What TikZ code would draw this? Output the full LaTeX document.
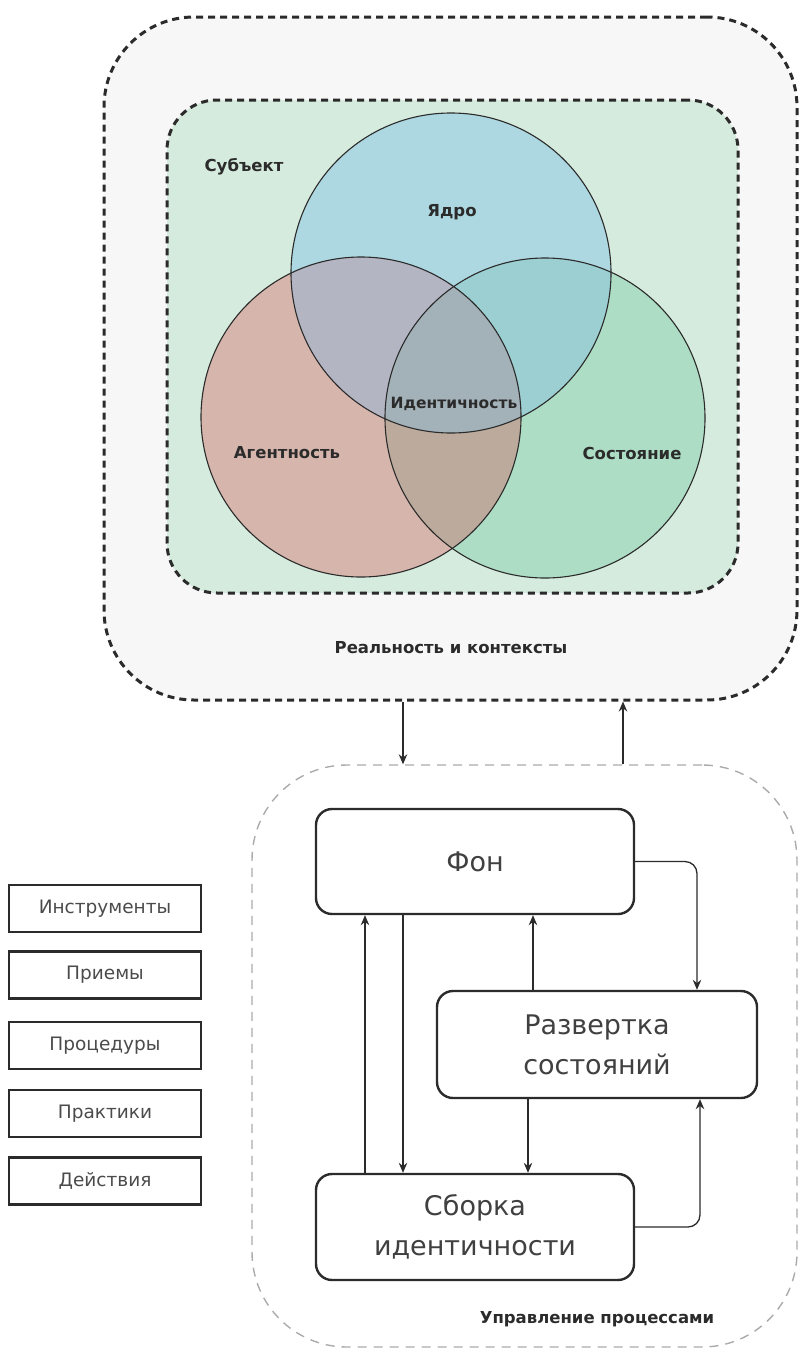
\documentclass[tikz,border=0pt]{standalone}
\usepackage{fontspec}
\setmainfont{DejaVu Sans}
\usetikzlibrary{arrows.meta}
\definecolor{outerbg}{HTML}{F7F7F7}
\definecolor{innerbg}{HTML}{D5EBDD}
\definecolor{cred}{HTML}{D6B6AC}
\definecolor{cblue}{HTML}{AED8E1}
\definecolor{cgreen}{HTML}{ADDDC4}
\definecolor{crb}{HTML}{B4B5C3}
\definecolor{cbg}{HTML}{9CCFD2}
\definecolor{crg}{HTML}{BCAB9C}
\definecolor{call}{HTML}{A3B2B8}
\definecolor{ink}{HTML}{2B2B2B}
\definecolor{graydash}{HTML}{ABABAB}
\tikzset{
  outerbox/.style={draw=ink, line width=3pt, dash pattern=on 7pt off 5pt, fill=outerbg, rounded corners=90pt},
  innerbox/.style={draw=ink, line width=3pt, dash pattern=on 7pt off 5pt, fill=innerbg, rounded corners=50pt},
  procarea/.style={draw=graydash, line width=1.4pt, dash pattern=on 9pt off 7pt, rounded corners=95pt},
  vcircle/.style={circle, minimum size=320pt, inner sep=0pt},
  lab/.style={font=\fontsize{16.5}{19}\selectfont\bfseries, text=ink},
  procbox/.style={draw=ink, line width=2.4pt, rounded corners=16pt, fill=white, align=center, font=\fontsize{27}{40}\selectfont, text=ink!90},
  toolbox/.style={draw=ink, line width=2.4pt, minimum width=192pt, minimum height=47pt, font=\fontsize{18.5}{22}\selectfont, text=ink!85},
  arr/.style={draw=ink, line width=1.3pt, -{Stealth[length=10pt,width=8.5pt]}},
  venn/.style={draw=ink, line width=1.1pt}
}
\begin{document}
\begin{tikzpicture}[x=1pt,y=-1pt]
\useasboundingbox (0,0) rectangle (798,1349);
% outer areas
\node[outerbox, minimum width=693pt, minimum height=683pt] (real) at (450.5,358.5) {};
\node[innerbox, minimum width=571pt, minimum height=493pt] (subj) at (452.5,346.5) {};
\node[procarea, minimum width=545pt, minimum height=582pt] (proc) at (524.5,1056) {};
% venn circles
\node[vcircle] (cb) at (451,273) {};
\node[vcircle] (cr) at (361,417) {};
\node[vcircle] (cg) at (545,418) {};
\fill[cred] (cr.center) circle (160);
\fill[cblue] (cb.center) circle (160);
\fill[cgreen] (cg.center) circle (160);
\begin{scope}
  \clip (cr.center) circle (160);
  \fill[crb] (cb.center) circle (160);
  \fill[crg] (cg.center) circle (160);
\end{scope}
\begin{scope}
  \clip (cb.center) circle (160);
  \fill[cbg] (cg.center) circle (160);
  \clip (cr.center) circle (160);
  \fill[call] (cg.center) circle (160);
\end{scope}
\draw[venn] (cr.center) circle (160);
\draw[venn] (cb.center) circle (160);
\draw[venn] (cg.center) circle (160);
% labels
\node[lab] (lsubj) at (244,167) {Субъект};
\node[lab] (lcore) at (452,212) {Ядро};
\node[lab, font=\fontsize{15.5}{19}\selectfont\bfseries] (lid) at (454,404) {Идентичность};
\node[lab] (lag) at (287,453) {Агентность};
\node[lab] (lst) at (632,453) {Состояние};
\node[lab] (lreal) at (451,648) {Реальность и контексты};
\node[lab] (lproc) at (597,1319) {Управление процессами};
% process boxes
\node[procbox, minimum width=318pt, minimum height=105pt] (fon) at (475,861.5) {Фон};
\node[procbox, minimum width=320pt, minimum height=107pt] (razv) at (597,1044.5) {Развертка\\состояний};
\node[procbox, minimum width=318pt, minimum height=106pt] (sb) at (475,1227) {Сборка\\идентичности};
% tool boxes
\node[toolbox] (t1) at (105,908.5) {Инструменты};
\node[toolbox] (t2) at (105,975) {Приемы};
\node[toolbox] (t3) at (105,1045.5) {Процедуры};
\node[toolbox] (t4) at (105,1113.5) {Практики};
\node[toolbox] (t5) at (105,1181) {Действия};
% helper x positions
\coordinate (x403) at (403,0);
\coordinate (x623) at (623,0);
\coordinate (x365) at (365,0);
\coordinate (x533) at (533,0);
\coordinate (x528) at (528,0);
\coordinate (x697) at (697,0);
\coordinate (x700) at (700,0);
% connectors between areas
\draw[arr] (real.south -| x403) -- (proc.north -| x403);
\draw[arr] (proc.north -| x623) -- (real.south -| x623);
% connectors between process boxes
\draw[arr, rounded corners=12pt] (fon.east) -| (razv.north -| x697);
\draw[arr, rounded corners=12pt] (sb.east) -| (razv.south -| x700);
\draw[arr] (sb.north -| x365) -- (fon.south -| x365);
\draw[arr] (fon.south -| x403) -- (sb.north -| x403);
\draw[arr] (razv.north -| x533) -- (fon.south -| x533);
\draw[arr] (razv.south -| x528) -- (sb.north -| x528);
\end{tikzpicture}
\end{document}
